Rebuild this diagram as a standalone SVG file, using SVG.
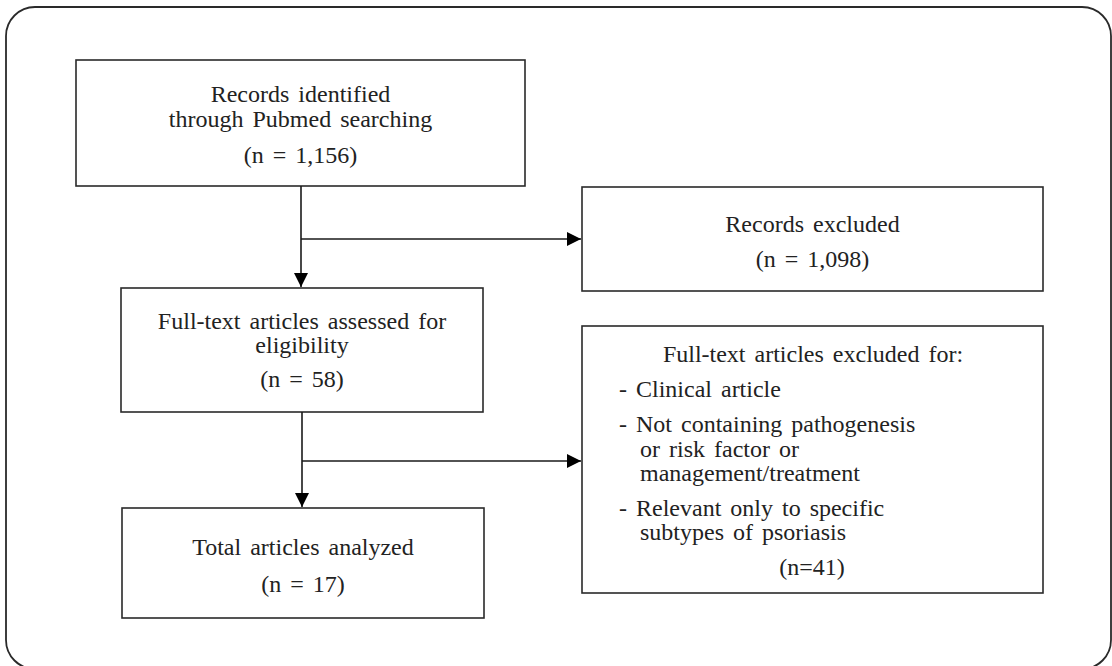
<svg xmlns="http://www.w3.org/2000/svg" width="1112" height="666" viewBox="0 0 1112 666">
<defs>
<style>
.box{fill:#fff;stroke:#2a2a2a;stroke-width:1.6}
.frame{fill:#fff;stroke:#2a2a2a;stroke-width:1.8}
.t{font-family:"Liberation Serif","Times New Roman",serif;font-size:24px;fill:#222;word-spacing:3px}
.c{text-anchor:middle}
.conn{stroke:#1a1a1a;stroke-width:1.6;fill:none}
</style>
<marker id="ah" markerUnits="userSpaceOnUse" markerWidth="14" markerHeight="14" viewBox="0 0 14 14" refX="14" refY="7" orient="auto">
<path d="M0,0 L14,7 L0,14 z" fill="#000"/>
</marker>
</defs>
<rect class="frame" x="6" y="7" width="1105" height="662" rx="29" ry="29"/>
<g id="node-identified">
<rect class="box" x="76" y="60" width="449" height="126"/>
<text class="t c" x="300.5" y="102">Records identified</text>
<text class="t c" x="300.5" y="127">through Pubmed searching</text>
<text class="t c" x="300.5" y="163">(n = 1,156)</text>
</g>
<g id="node-excluded">
<rect class="box" x="582" y="187" width="461" height="104"/>
<text class="t c" x="812.5" y="232">Records excluded</text>
<text class="t c" x="812.5" y="267">(n = 1,098)</text>
</g>
<g id="node-assessed">
<rect class="box" x="121" y="288" width="362" height="124"/>
<text class="t c" x="302" y="329">Full-text articles assessed for</text>
<text class="t c" x="302" y="353">eligibility</text>
<text class="t c" x="302" y="387">(n = 58)</text>
</g>
<g id="node-fulltext-excluded">
<rect class="box" x="582" y="326" width="461" height="267"/>
<text class="t c" x="813" y="362">Full-text articles excluded for:</text>
<text class="t" x="619" y="397">- Clinical article</text>
<text class="t" x="619" y="432">- Not containing pathogenesis</text>
<text class="t" x="640" y="457">or risk factor or</text>
<text class="t" x="640" y="481">management/treatment</text>
<text class="t" x="619" y="516">- Relevant only to specific</text>
<text class="t" x="640" y="540">subtypes of psoriasis</text>
<text class="t c" x="812" y="575">(n=41)</text>
</g>
<g id="node-total">
<rect class="box" x="122" y="508" width="362" height="110"/>
<text class="t c" x="303" y="555">Total articles analyzed</text>
<text class="t c" x="303" y="592">(n = 17)</text>
</g>
<g id="connectors">
<line class="conn" x1="301" y1="186" x2="301" y2="287" marker-end="url(#ah)"/>
<line class="conn" x1="301" y1="239" x2="581" y2="239" marker-end="url(#ah)"/>
<line class="conn" x1="302" y1="412" x2="302" y2="507" marker-end="url(#ah)"/>
<line class="conn" x1="302" y1="461" x2="581" y2="461" marker-end="url(#ah)"/>
</g>
</svg>
